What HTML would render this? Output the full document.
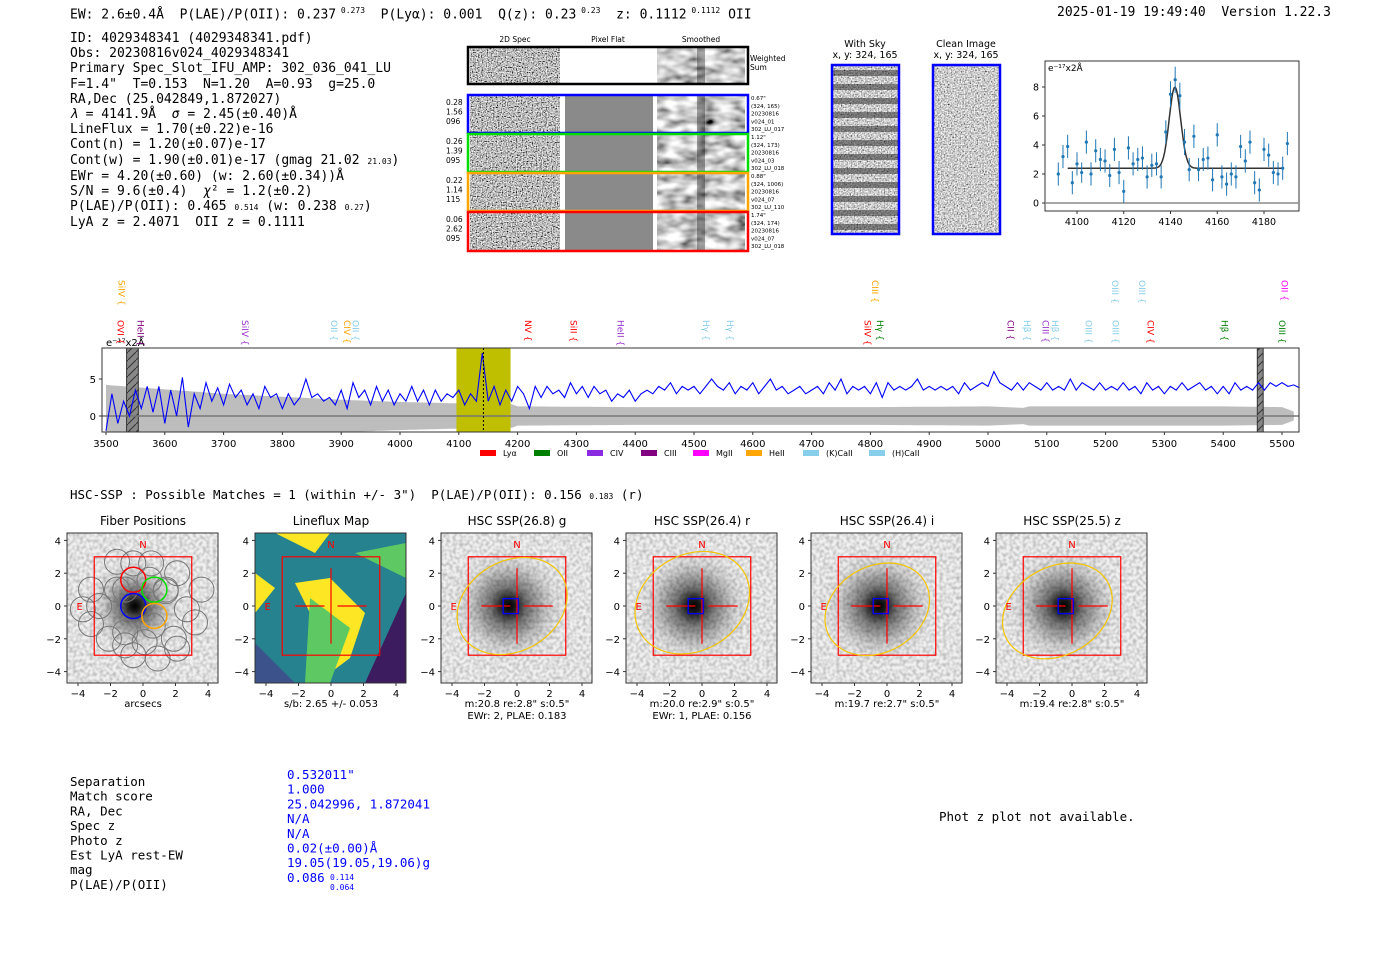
<!DOCTYPE html>
<html><head><meta charset="utf-8">
<style>
html,body{margin:0;padding:0;background:#fff;}
svg{display:block;}
.m{font-family:"DejaVu Sans Mono","Liberation Mono",monospace;}
.s{font-family:"DejaVu Sans","Liberation Sans",sans-serif;}
</style></head>
<body>
<svg id="fig" width="1400" height="953" viewBox="0 0 1400 953" xmlns="http://www.w3.org/2000/svg">
<defs>
<filter id="nz" x="0" y="0" width="100%" height="100%"><feTurbulence type="fractalNoise" baseFrequency="0.8" numOctaves="1" seed="3"/><feColorMatrix type="saturate" values="0"/><feComponentTransfer><feFuncR type="linear" slope="3" intercept="-1"/><feFuncG type="linear" slope="3" intercept="-1"/><feFuncB type="linear" slope="3" intercept="-1"/><feFuncA type="linear" slope="0" intercept="1"/></feComponentTransfer></filter>
<filter id="nzs" x="0" y="0" width="100%" height="100%"><feTurbulence type="fractalNoise" baseFrequency="0.06 0.12" numOctaves="2" seed="7"/><feColorMatrix type="saturate" values="0"/><feComponentTransfer><feFuncR type="linear" slope="2.2" intercept="-0.5"/><feFuncG type="linear" slope="2.2" intercept="-0.5"/><feFuncB type="linear" slope="2.2" intercept="-0.5"/><feFuncA type="linear" slope="0" intercept="1"/></feComponentTransfer></filter>
<filter id="nzf" x="0" y="0" width="100%" height="100%"><feTurbulence type="fractalNoise" baseFrequency="0.7" numOctaves="1" seed="11"/><feColorMatrix type="saturate" values="0"/><feComponentTransfer><feFuncR type="linear" slope="2.4" intercept="-0.6"/><feFuncG type="linear" slope="2.4" intercept="-0.6"/><feFuncB type="linear" slope="2.4" intercept="-0.6"/><feFuncA type="linear" slope="0" intercept="1"/></feComponentTransfer></filter>
<filter id="nzl" x="0" y="0" width="100%" height="100%"><feTurbulence type="fractalNoise" baseFrequency="0.3" numOctaves="1" seed="5"/><feColorMatrix type="matrix" values="0 0 0 0 0  0 0 0 0 0  0 0 0 0 0  0 0 0 -0.5 0.32"/></filter>
<radialGradient id="blob"><stop offset="0" stop-color="#000"/><stop offset="0.1" stop-color="#1a1a1a"/><stop offset="0.3" stop-color="#777"/><stop offset="0.6" stop-color="#c8c8c8"/><stop offset="1" stop-color="#f0f0f0" stop-opacity="0"/></radialGradient>
<pattern id="hatch" width="8" height="8" patternUnits="userSpaceOnUse"><rect width="8" height="8" fill="#888"/><path d="M0 8 L8 0" stroke="#333" stroke-width="1"/></pattern>
</defs>
<g id="root"></g>
</svg>
<script>
// ===== spectrum data =====
const specWave0 = 3500, specStep = 10;
const specFlux = [-2,3,-1,2,0,3.5,1,4,0.5,4,-1,3.5,0,5.2,-1.5,3,1,4.5,2,3.8,1.5,4.3,2.5,3.5,1.5,3,1,4,2.5,3,1,3,1.5,2.5,5,2.5,3,2,2.5,1.5,3.5,1,4.5,2.5,3.5,1.5,4,2,3.5,1.5,3,2,4,2,3.5,1.5,3.5,2,3,2.5,3.5,1.5,3,2,8.5,2,4,1.5,3.5,2,4,3,1,4,2.5,4,3,3.5,2.5,4.5,3,4,2.5,4,3,3.5,2,3,2.5,3.5,2,3,3.5,3,4,3.5,4.5,3,4,3.5,4,3,4,5,4,3.5,4.5,3,4,3.5,4.5,3,4,5,3.5,4,3,3.5,4,3,3.5,4,3,4.5,3.5,5,3,4,3.5,4,3,4.5,2.5,4.5,3.5,4,3.5,4,5,3.5,4,3.5,4,3.5,4,3,4.5,3.5,4,4.5,4,6,4.5,4,3.5,4.5,3.5,4.5,4,3.5,4.5,3.5,4,3.5,5,3.5,4.5,4,3.5,4.5,3.5,4,3.5,4.5,3.5,4,3,4.5,3.5,4,3,4,3.5,4.5,3.5,4,4.5,3.5,4,3,4,3,4.5,3.5,4,3.5,4.5,3.5,4.5,4,4.5,4,4.2,3.8];
const errWave = [3500,3600,3700,3800,3900,4000,4100,4190,4200,4400,4600,4800,5000,5060,5070,5200,5400,5500,5520];
const errVals = [4.2,3.6,3.0,2.6,2.2,1.9,1.7,1.6,1.3,1.2,1.2,1.2,1.3,1.1,1.3,1.3,1.3,1.2,0.6];
const xTicks = [3500,3600,3700,3800,3900,4000,4100,4200,4300,4400,4500,4600,4700,4800,4900,5000,5100,5200,5300,5400,5500];
const yTicks = [0,5];
// ===== zoom fit data =====
const zWave = [4092,4094,4096,4098,4100,4102,4104,4106,4108,4110,4112,4114,4116,4118,4120,4122,4124,4126,4128,4130,4132,4134,4136,4138,4140,4142,4144,4146,4148,4150,4152,4154,4156,4158,4160,4162,4164,4166,4168,4170,4172,4174,4176,4178,4180,4182,4184,4186,4188,4190];
const zFlux = [2.0,3.2,3.9,1.4,2.7,2.1,4.2,2.0,3.6,3.0,2.9,1.9,3.7,2.1,0.8,3.8,2.7,3.0,3.1,1.8,2.6,2.7,1.8,4.9,7.5,8.5,7.4,4.2,2.3,4.6,2.3,3.0,3.1,1.6,4.7,1.8,1.3,2.0,1.8,3.9,2.9,4.2,1.4,0.9,3.7,3.3,2.1,2.0,2.4,4.1];
const zErr = [0.8,0.8,0.8,0.8,0.8,0.7,0.8,0.8,0.8,0.8,0.8,0.8,0.8,0.8,0.8,0.8,0.8,0.8,0.8,0.8,0.8,0.8,0.8,0.8,0.9,0.9,0.9,0.9,0.8,0.8,0.8,0.8,0.8,0.8,0.8,0.8,0.8,0.8,0.8,0.8,0.8,0.8,0.8,0.8,0.8,0.8,0.8,0.8,0.8,0.8];
const zXTicks = [4100,4120,4140,4160,4180];
const zYTicks = [0,2,4,6,8];
const fitParams = [4141.9, 2.45, 5.6, 2.4];
// ===== line labels =====
const lineNames = ["SiIV","CIII","OIII","OIII","OII","OVI","HeII","SiIV","OII","CIV","OII","NV","SiII","HeII","Hγ","Hγ","SiIV","Hγ","CII","Hβ","CIII","Hβ","OIII","OIII","CIV","Hβ","OIII"];
const lineWaves = [3526,4808,5216,5262,5504,3525,3559,3736,3888,3910,3924,4218,4295,4375,4520,4561,4795,4816,5038,5066,5098,5114,5171,5217,5276,5402,5500];
const lineColors = ["orange","orange","#87ceeb","#87ceeb","magenta","red","purple","#9932cc","#87ceeb","orange","#87ceeb","red","red","#9932cc","#87ceeb","#87ceeb","red","green","purple","#87ceeb","#9932cc","#87ceeb","#87ceeb","#87ceeb","red","green","green"];
const lineRows = [0,0,0,0,0,1,1,1,1,1,1,1,1,1,1,1,1,1,1,1,1,1,1,1,1,1,1];

const NS="http://www.w3.org/2000/svg";
const root=document.getElementById('root');
function el(tag,attrs,parent){const e=document.createElementNS(NS,tag);for(const k in attrs)e.setAttribute(k,attrs[k]);(parent||root).appendChild(e);return e;}
function txt(x,y,s,attrs,parent){const t=el('text',Object.assign({x:x,y:y},attrs||{}),parent);t.textContent=s;return t;}

// ---------- spectrum ----------
const SX0=102,SX1=1299,SY0=348,SY1=432;
const sx=w=>106+(w-3500)*(1282-106)/2000;
const sy=v=>416-v*(416-379)/5;
const spec=el('g',{});


el('rect',{x:SX0,y:SY0,width:SX1-SX0,height:SY1-SY0,fill:'#fff'},spec);
function errAt(w){for(let i=0;i<errWave.length-1;i++){if(w<=errWave[i+1])return errVals[i]+(errVals[i+1]-errVals[i])*(w-errWave[i])/(errWave[i+1]-errWave[i]);}return errVals[errVals.length-1];}
let up=[],dn=[];
for(let w=3500;w<=5520;w+=5){up.push(sx(w).toFixed(1)+','+Math.max(SY0,sy(errAt(w))).toFixed(1));dn.push(sx(w).toFixed(1)+','+Math.min(SY1,sy(-errAt(w))).toFixed(1));}
const band=el('polygon',{points:up.concat(dn.reverse()).join(' '),fill:'#bdbdbd'},spec);


const hl=el('rect',{x:sx(4096),y:SY0,width:sx(4188)-sx(4096),height:SY1-SY0,fill:'#bfbf00'},spec);


[[3535,3555],[5458,5468]].forEach(r=>{const m=el('rect',{x:sx(r[0]),y:SY0,width:sx(r[1])-sx(r[0]),height:SY1-SY0,fill:'url(#hatch)',stroke:'#333','stroke-width':1},spec);});
el('line',{x1:SX0,x2:SX1,y1:sy(0),y2:sy(0),stroke:'#777','stroke-width':1.5},spec);
const pts=specFlux.map((v,i)=>sx(specWave0+i*specStep).toFixed(1)+','+Math.max(SY0,Math.min(SY1,sy(v))).toFixed(1)).join(' ');
const sl=el('polyline',{points:pts,fill:'none',stroke:'#0000ff','stroke-width':1.1},spec);


el('line',{x1:sx(4141.9),x2:sx(4141.9),y1:SY0,y2:SY1,stroke:'#000','stroke-dasharray':'2,2'},spec);
el('rect',{x:SX0,y:SY0,width:SX1-SX0,height:SY1-SY0,fill:'none',stroke:'#333'},spec);
xTicks.forEach(t=>{el('line',{x1:sx(t),x2:sx(t),y1:SY1,y2:SY1+3,stroke:'#333'},spec);const tl=txt(sx(t),447,String(t),{'text-anchor':'middle','font-size':10,class:'s'},spec);});
yTicks.forEach(t=>{el('line',{x1:SX0-3,x2:SX0,y1:sy(t),y2:sy(t),stroke:'#333'},spec);txt(SX0-6,sy(t)+4,String(t),{'text-anchor':'end','font-size':10,class:'s'},spec);});
txt(106,346,'e⁻¹⁷x2Å',{'font-size':10,class:'s'},spec);
lineNames.forEach((n,i)=>{const x=sx(lineWaves[i]);const y=lineRows[i]===0?280:320;const t=txt(0,0,n+' {',{'font-size':9,class:'s',fill:lineColors[i],transform:`translate(${x-3},${y}) rotate(90)`},spec);});
const legN=["Lyα","OII","CIV","CIII","MgII","HeII","(K)CaII","(H)CaII"],legC=["red","green","#8a2be2","purple","magenta","orange","#87ceeb","#87ceeb"],legX=[480,534,587,641,693,746,803,869];
legN.forEach((n,i)=>{const g=el('g',{},spec);el('rect',{x:legX[i],y:450,width:16,height:6,fill:legC[i]},g);txt(legX[i]+23,456,n,{'font-size':8,class:'s'},g);});

// ---------- zoom plot ----------
const zx=w=>1077+(w-4100)*(1264-1077)/80;
const zy=v=>203-v*(203-87)/8;
const zg=el('g',{});


el('rect',{x:1045,y:61,width:254,height:150,fill:'#fff',stroke:'#333'},zg);
el('line',{x1:1045,x2:1299,y1:zy(0),y2:zy(0),stroke:'#888','stroke-width':1.5},zg);
let fp=[];for(let w=4096;w<=4188;w+=0.5){const v=fitParams[3]+fitParams[2]*Math.exp(-0.5*Math.pow((w-fitParams[0])/fitParams[1],2));fp.push(zx(w).toFixed(1)+','+zy(v).toFixed(1));}
const fl=el('polyline',{points:fp.join(' '),fill:'none',stroke:'#333','stroke-width':1.5},zg);


zWave.forEach((w,i)=>{const p=el('g',{},zg);el('line',{x1:zx(w),x2:zx(w),y1:zy(zFlux[i]+zErr[i]),y2:zy(zFlux[i]-zErr[i]),stroke:'#1f77b4','stroke-width':1},p);el('circle',{cx:zx(w),cy:zy(zFlux[i]),r:1.6,fill:'#1f77b4'},p);});
zXTicks.forEach(t=>{el('line',{x1:zx(t),x2:zx(t),y1:211,y2:214,stroke:'#333'},zg);txt(zx(t),225,String(t),{'text-anchor':'middle','font-size':9.5,class:'s'},zg);});
zYTicks.forEach(t=>{el('line',{x1:1042,x2:1045,y1:zy(t),y2:zy(t),stroke:'#333'},zg);txt(1039,zy(t)+3.5,String(t),{'text-anchor':'end','font-size':9.5,class:'s'},zg);});
txt(1048,71,'e⁻¹⁷x2Å',{'font-size':9,class:'s'},zg);

// ---------- 2D cutouts ----------
const cg=el('g',{});


txt(515,42,'2D Spec',{'text-anchor':'middle','font-size':7.5,class:'s'},cg);
txt(608,42,'Pixel Flat',{'text-anchor':'middle','font-size':7.5,class:'s'},cg);
txt(701,42,'Smoothed',{'text-anchor':'middle','font-size':7.5,class:'s'},cg);
const rowsY=[47,95,134,173,212],rowH=[37,38,38,38,39],rowCol=['#000','#0000ff','#00dd00','orange','red'];
const rowL=[null,['0.28','1.56','096'],['0.26','1.39','095'],['0.22','1.14','115'],['0.06','2.62','095']];
const rowR=[['Weighted','Sum'],['0.67"','(324, 165)','20230816','v024_01','302_LU_017'],['1.12"','(324, 173)','20230816','v024_03','302_LU_018'],['0.88"','(324, 1006)','20230816','v024_07','302_LU_110'],['1.74"','(324, 174)','20230816','v024_07','302_LU_018']];
rowsY.forEach((y,i)=>{const h=rowH[i];const r=el('g',{},cg);
 el('rect',{x:470,y:y+1,width:90,height:h-2,filter:'url(#nz)'},r);
 el('rect',{x:565,y:y+1,width:88,height:h-2,fill:i===0?'#fff':'#8a8a8a'},r);
 el('rect',{x:657,y:y+1,width:88,height:h-2,filter:'url(#nzs)'},r);
 el('rect',{x:697,y:y+1,width:8,height:h-2,fill:'#000',opacity:0.35},r);
 el('rect',{x:468,y:y,width:280,height:h,fill:'none',stroke:rowCol[i],'stroke-width':2.5},r);
 if(rowL[i])rowL[i].forEach((s,k)=>txt(446,y+10+k*9.5,s,{'font-size':7.5,class:'s'},r));
 if(i===0)rowR[i].forEach((s,k)=>txt(750,y+14+k*9,s,{'font-size':7.5,class:'s'},r));
 else rowR[i].forEach((s,k)=>txt(751,y+5+k*7.8,s,{'font-size':5.5,class:'s'},r));
});
const sk=el('g',{});
txt(865,47,'With Sky',{'text-anchor':'middle','font-size':9.5,class:'s'},sk);
txt(865,58,'x, y: 324, 165',{'text-anchor':'middle','font-size':9.5,class:'s'},sk);
el('rect',{x:832,y:65,width:67,height:169,filter:'url(#nzf)'},sk);
for(let k=0;k<12;k++)el('rect',{x:832,y:70+k*14,width:67,height:6,fill:'#222',opacity:0.5},sk);
el('rect',{x:832,y:65,width:67,height:169,fill:'none',stroke:'#0000ff','stroke-width':2.5},sk);
const cl=el('g',{});
txt(966,47,'Clean Image',{'text-anchor':'middle','font-size':9.5,class:'s'},cl);
txt(966,58,'x, y: 324, 165',{'text-anchor':'middle','font-size':9.5,class:'s'},cl);
el('rect',{x:933,y:65,width:67,height:169,filter:'url(#nzf)'},cl);
el('rect',{x:933,y:65,width:67,height:169,fill:'none',stroke:'#0000ff','stroke-width':2.5},cl);

// ---------- thumbnails ----------
const panL=[67,255,441,626,811,996];
const panT=['Fiber Positions','Lineflux Map','HSC SSP(26.8) g','HSC SSP(26.4) r','HSC SSP(26.4) i','HSC SSP(25.5) z'];
const panB=[['arcsecs'],['s/b: 2.65 +/- 0.053'],['m:20.8  re:2.8"  s:0.5"','EWr: 2, PLAE: 0.183'],['m:20.0  re:2.9"  s:0.5"','EWr: 1, PLAE: 0.156'],['m:19.7  re:2.7"  s:0.5"'],['m:19.4  re:2.8"  s:0.5"']];
const ellRx=[0,0,58,60,55,58],ellRy=[0,0,45,48,43,44],ellCx=[0,0,-0.3,-0.6,-0.6,-0.9],ellCy=[0,0,0,0.2,-0.2,-0.3];
const PW=151,PT=533,PH=150;
panL.forEach((L,pi)=>{
 const g=el('g',{});
 const ax=v=>L+76+v*16.25, ay=v=>606-v*16.4;
 txt(L+76,525,panT[pi],{'text-anchor':'middle','font-size':12,class:'s'},g);
 const cid='cp'+pi;const cp=el('clipPath',{id:cid},g);el('rect',{x:L,y:PT,width:PW,height:PH},cp);
 const inner=el('g',{'clip-path':`url(#${cid})`},g);
 if(pi===1){
  el('rect',{x:L,y:PT,width:PW,height:PH,fill:'#26828e'},inner);
  el('polygon',{points:`${L},${PT+150} ${L+40},${PT+150} ${L},${PT+110}`,fill:'#3b528b'},inner);
  el('polygon',{points:`${L+151},${PT+60} ${L+151},${PT+150} ${L+110},${PT+150}`,fill:'#440154',opacity:0.8},inner);
  el('polygon',{points:`${L+20},${PT} ${L+75},${PT} ${L+60},${PT+20}`,fill:'#fde725'},inner);
  el('polygon',{points:`${L+40},${PT+50} ${L+75},${PT+45} ${L+110},${PT+80} ${L+95},${PT+125} ${L+75},${PT+140} ${L+60},${PT+90}`,fill:'#fde725'},inner);
  el('polygon',{points:`${L+55},${PT+65} ${L+95},${PT+95} ${L+75},${PT+150} ${L+50},${PT+150}`,fill:'#5ec962'},inner);
  el('polygon',{points:`${L},${PT+40} ${L+20},${PT+55} ${L},${PT+80}`,fill:'#fde725'},inner);
  el('polygon',{points:`${L+100},${PT+20} ${L+151},${PT+10} ${L+151},${PT+45}`,fill:'#5ec962'},inner);
 } else {
  el('rect',{x:L,y:PT,width:PW,height:PH,fill:'#f0f0f0'},inner);
  const r=pi===0?50:62;
  el('circle',{cx:ax(-0.5),cy:ay(0),r:r,fill:'url(#blob)'},inner);
  el('rect',{x:L,y:PT,width:PW,height:PH,filter:'url(#nzl)'},inner);
 }
 if(pi===0){
  const fx=[-1.6,0.5,2.1,-3.2,-1.1,1.4,-2.7,-0.6,0.6,2.7,-3.7,-2.1,0.1,1.9,3.6,-3.2,-1.6,-0.6,1.4,3.2,-1.1,0.9,-1.1,0.4,2.1];
  const fy=[2.7,2.6,2.0,1.0,1.0,0.9,0.0,2.6,-1.2,-0.2,-0.2,-2.0,-2.2,-2.0,1.0,-1.1,1.0,-3.0,1.0,-1.0,-1.6,-3.2,-2.4,1.6,-2.6];
  fx.forEach((x,i)=>el('circle',{cx:ax(x),cy:ay(fy[i]),r:12.5,fill:'none',stroke:'#777','stroke-width':1},inner));
  [[-0.6,1.6,'red'],[0.7,1.0,'#00dd00'],[-0.6,0,'#0000ff'],[0.7,-0.6,'orange']].forEach(c=>el('circle',{cx:ax(c[0]),cy:ay(c[1]),r:12.5,fill:'none',stroke:c[2],'stroke-width':1.5},inner));
 }
 el('rect',{x:ax(-3),y:ay(3),width:ax(3)-ax(-3),height:ay(-3)-ay(3),fill:'none',stroke:'red','stroke-width':1.2},inner);
 if(pi>=1){
  el('line',{x1:ax(-2.2),x2:ax(-0.4),y1:ay(0),y2:ay(0),stroke:'red','stroke-width':1.2},inner);
  el('line',{x1:ax(0.4),x2:ax(2.2),y1:ay(0),y2:ay(0),stroke:'red','stroke-width':1.2},inner);
  el('line',{x1:ax(0),x2:ax(0),y1:ay(2.3),y2:ay(-2.3),stroke:'red','stroke-width':1.2},inner);
 }
 if(pi>=2){
  el('ellipse',{cx:ax(ellCx[pi]),cy:ay(ellCy[pi]),rx:ellRx[pi],ry:ellRy[pi],fill:'none',stroke:'#f5c400','stroke-width':1.2,transform:`rotate(-30 ${ax(ellCx[pi])} ${ay(ellCy[pi])})`},inner);
  el('rect',{x:ax(-0.85),y:ay(0.45),width:15,height:15,fill:'none',stroke:'#0000ff','stroke-width':1.3},inner);
 }
 txt(ax(0),ay(3.55),'N',{'text-anchor':'middle','font-size':10,fill:'red',class:'s'},g);
 txt(ax(-3.9),ay(0)+4,'E',{'text-anchor':'middle','font-size':10,fill:'red',class:'s'},g);
 el('rect',{x:L,y:PT,width:PW,height:PH,fill:'none',stroke:'#333'},g);
 [-4,-2,0,2,4].forEach(t=>{
  el('line',{x1:ax(t),x2:ax(t),y1:PT+PH,y2:PT+PH+3,stroke:'#333'},g);
  txt(ax(t),PT+PH+14,(t<0?'−':'')+Math.abs(t),{'text-anchor':'middle','font-size':10,class:'s'},g);
  el('line',{x1:L-3,x2:L,y1:ay(t),y2:ay(t),stroke:'#333'},g);
  txt(L-6,ay(t)+4,(t<0?'−':'')+Math.abs(t),{'text-anchor':'end','font-size':10,class:'s'},g);
 });
 panB[pi].forEach((s,k)=>txt(ax(0),707+k*12,s,{'text-anchor':'middle','font-size':10,class:'s'},g));
});

// ---------- bottom table ----------
const tLab=['Separation','Match score','RA, Dec','Spec z','Photo z','Est LyA rest-EW','mag','P(LAE)/P(OII)'];
const tVal=['0.532011"','1.000','25.042996, 1.872041','N/A','N/A','0.02(±0.00)Å','19.05(19.05,19.06)g','0.086'];
const tg=el('g',{});
tLab.forEach((s,i)=>{txt(70,786+i*14.7,s,{'font-size':12.5,class:'m'},tg);txt(287,779+i*14.7,tVal[i],{'font-size':12.5,class:'m',fill:'#0000ff'},tg);});
txt(330,880,'0.114',{'font-size':8,class:'m',fill:'#0000ff'},tg);txt(330,890,'0.064',{'font-size':8,class:'m',fill:'#0000ff'},tg);
</script>
<div class="m" style="position:absolute;left:0;top:0;width:1400px;height:260px;font-size:13px;line-height:15px;pointer-events:none;">
 <div style="position:absolute;left:70px;top:3px;white-space:pre">EW: 2.6±0.4Å  P(LAE)/P(OII): 0.237<sup style="font-size:8px"> 0.273</sup>  P(Lyα): 0.001  Q(z): 0.23<sup style="font-size:8px"> 0.23</sup>  z: 0.1112<sup style="font-size:8px"> 0.1112</sup> OII</div>
 <div style="position:absolute;left:1057px;top:5px;white-space:pre">2025-01-19 19:49:40  Version 1.22.3</div>
 <div style="position:absolute;left:70px;top:31px;white-space:pre;line-height:15.2px">ID: 4029348341 (4029348341.pdf)
Obs: 20230816v024_4029348341
Primary Spec_Slot_IFU_AMP: 302_036_041_LU
F=1.4"  T=0.153  N=1.20  A=0.93  g=25.0
RA,Dec (25.042849,1.872027)
<i>λ</i> = 4141.9Å  <i>σ</i> = 2.45(±0.40)Å
LineFlux = 1.70(±0.22)e-16
Cont(n) = 1.20(±0.07)e-17
Cont(w) = 1.90(±0.01)e-17 (gmag 21.02 <span style="font-size:8px">21.03</span>)
EWr = 4.20(±0.60) (w: 2.60(±0.34))Å
S/N = 9.6(±0.4)  <i>χ</i>² = 1.2(±0.2)
P(LAE)/P(OII): 0.465 <span style="font-size:8px">0.514</span> (w: 0.238 <span style="font-size:8px">0.27</span>)
LyA z = 2.4071  OII z = 0.1111</div>
</div>
<div class="m" style="position:absolute;left:70px;top:487px;font-size:12.5px;white-space:pre">HSC-SSP : Possible Matches = 1 (within +/- 3")  P(LAE)/P(OII): 0.156 <span style="font-size:8px">0.183</span> (r)</div>
<div class="m" style="position:absolute;left:939px;top:809px;font-size:12.5px">Phot z plot not available.</div>
</body></html>
